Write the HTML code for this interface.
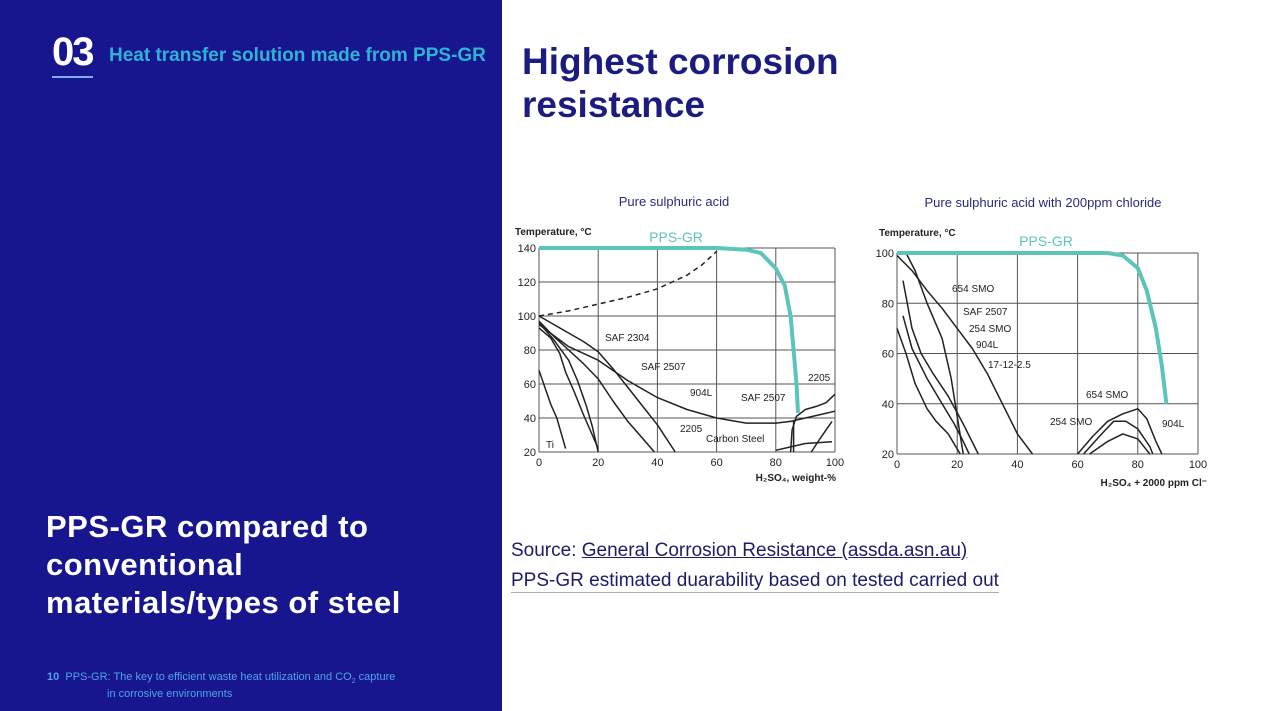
<!DOCTYPE html>
<html><head><meta charset="utf-8">
<style>
body{margin:0;width:1261px;height:711px;overflow:hidden;background:#fff;font-family:"Liberation Sans",sans-serif;position:relative}
.abs{position:absolute}
#panel{left:0;top:0;width:502px;height:711px;background:#18168f}
</style></head><body>
<div id="panel" class="abs">
  <div class="abs" style="left:52px;top:28px;color:#fff;font-weight:bold;font-size:40px;letter-spacing:-2px;line-height:48px;border-bottom:2px solid #7fb0ff">03</div>
  <div class="abs" style="left:109px;top:45px;color:#2fb3d2;font-weight:bold;font-size:19px">Heat transfer solution made from PPS-GR</div>
  <div class="abs" style="left:46px;top:508px;color:#fff;font-weight:bold;font-size:31px;line-height:38px;letter-spacing:0.5px;width:450px">PPS-GR compared to<br>conventional<br>materials/types of steel</div>
  <div class="abs" style="left:47px;top:671px;color:#4fa3e6;font-size:11px;line-height:13px"><b>10</b>&nbsp; PPS-GR: The key to efficient waste heat utilization and CO<sub style="font-size:7px">2</sub> capture<br><span style="padding-left:60px">in corrosive environments</span></div>
</div>
<div class="abs" style="left:522px;top:40px;color:#1c1c80;font-weight:bold;font-size:37px;line-height:43px">Highest corrosion<br>resistance</div>
<div class="abs" style="left:511px;top:540px;color:#1c1c6a;font-size:19px">Source: <span style="text-decoration:underline">General Corrosion Resistance (assda.asn.au)</span></div>
<div class="abs" style="left:511px;top:570px;color:#1c1c6a;font-size:19px;border-bottom:1px solid #aab">PPS-GR estimated duarability based on tested carried out</div>
<svg id="chart" class="abs" style="left:0;top:0" width="1261" height="711"></svg>
<script>
const leftXTicks=[0,20,40,60,80,100];
const leftYTicks=[20,40,60,80,100,120,140];
const rightXTicks=[0,20,40,60,80,100];
const rightYTicks=[20,40,60,80,100];
const leftPPS=[[0,140],[60,140],[70,139],[75,137],[80,128],[83,118],[85,100],[86,80],[87,60],[87.5,43]];
const leftDashed=[[0,100],[10,103],[20,107],[30,111],[40,116],[50,124],[55,130],[60,138]];
const left904L=[[0,95],[10,82],[20,74],[30,62],[40,52],[50,45],[60,40],[70,37],[80,37],[85,38],[90,40],[95,42],[100,44]];
const leftA=[[0,100],[8,92],[15,85],[20,79],[25,69],[30,58],[35,47],[40,36],[46,20]];
const leftB=[[0,97],[5,88],[10,80],[15,72],[20,63],[25,50],[30,38],[35,28],[39,20]];
const leftC=[[0,96],[5,86],[10,74],[13,62],[16,47],[18,35],[20,20]];
const leftD=[[0,93],[4,87],[7,78],[9,67],[12,55],[15,42],[18,30],[20,22]];
const leftTi=[[0,68],[2,58],[4,48],[6,40],[9,22]];
const left2205r=[[85,20],[85.5,33],[87,41],[90,45],[94,47],[97,49],[100,54]];
const leftCarbon=[[80,21],[85,23],[90,25],[99,26]];
const leftE=[[92,20],[95,28],[99,38]];
const leftF=[[86,20],[86,38]];
const rightPPS=[[0,100],[70,100],[75,99],[80,94],[83,85],[86,70],[88,55],[89.5,40]];
const r654=[[0,99],[5,93],[10,85],[15,78],[20,70],[25,62],[30,52],[35,40],[40,28],[45,20]];
const r2507=[[3,100],[6,93],[10,80],[15,66],[18,50],[20,35],[22,20]];
const r254=[[2,89],[5,70],[8,60],[12,52],[17,43],[22,32],[27,20]];
const r904=[[2,75],[5,62],[10,50],[15,40],[19,32],[22,25],[24,20]];
const r171=[[0,70],[3,60],[6,48],[10,38],[13,33],[17,28],[21,20]];
const r654b=[[60,20],[65,27],[70,33],[75,36],[80,38],[83,34],[86,25],[88,20]];
const r254b=[[62,20],[68,28],[72,33],[76,33],[80,30],[84,23],[85,20]];
const r904b=[[64,20],[70,25],[75,28],[80,26],[84,20]];

const NS="http://www.w3.org/2000/svg";
const svg=document.getElementById('chart');
function mk(tag,attrs,parent){const e=document.createElementNS(NS,tag);for(const k in attrs)e.setAttribute(k,attrs[k]);(parent||svg).appendChild(e);return e;}
function axis(x0,x1,y0,y1,ymin,ymax){return{x:v=>x0+(x1-x0)*v/100,y:v=>y0-(y0-y1)*(v-ymin)/(ymax-ymin)};}
const L=axis(539,835,452,248,20,140);
const R=axis(897,1198,454,253,20,100);
function grid(A,xt,yt,ymin,ymax,name){
  const g=mk('g',{});
  
  
  xt.forEach(t=>{mk('line',{x1:A.x(t),x2:A.x(t),y1:A.y(ymin),y2:A.y(ymax),stroke:'#555','stroke-width':1},g);
    const tx=mk('text',{x:A.x(t),y:A.y(ymin)+14,'text-anchor':'middle','font-size':11,fill:'#222'},g);tx.textContent=t;
    });
  yt.forEach(t=>{mk('line',{x1:A.x(0),x2:A.x(100),y1:A.y(t),y2:A.y(t),stroke:'#555','stroke-width':1},g);
    const tx=mk('text',{x:A.x(0)-3,y:A.y(t)+4,'text-anchor':'end','font-size':11,fill:'#222'},g);tx.textContent=t;
    });
}
function curve(A,pts,name,opt){
  opt=opt||{};
  const d=pts.map((p,i)=>(i?'L':'M')+A.x(p[0]).toFixed(1)+','+A.y(p[1]).toFixed(1)).join(' ');
  const p=mk('path',{d:d,fill:'none',stroke:opt.c||'#222','stroke-width':opt.w||1.5,'stroke-dasharray':opt.dash||'none','stroke-linejoin':'round'});
  
  
}
function txt(x,y,s,name,opt){opt=opt||{};const t=mk('text',{x:x,y:y,'font-size':opt.fs||10,fill:opt.c||'#222','font-weight':opt.b?'bold':'normal','text-anchor':opt.a||'start'});t.textContent=s;
  }
grid(L,leftXTicks,leftYTicks,20,140,'left');
grid(R,rightXTicks,rightYTicks,20,100,'right');
curve(L,leftDashed,'dashed-limit',{dash:'5,4'});
curve(L,left904L,'curve-904l');curve(L,leftA,'curve-saf2304-a');curve(L,leftB,'curve-saf2507');
curve(L,leftC,'curve-2205');curve(L,leftD,'curve-saf2304');curve(L,leftTi,'curve-ti');
curve(L,left2205r,'curve-2205-right');curve(L,leftCarbon,'curve-carbon-steel');curve(L,leftE,'curve-right-e');curve(L,leftF,'curve-saf2507-right');
curve(L,leftPPS,'curve-pps-gr-left',{c:'#5cc4b8',w:4});
curve(R,r654,'curve-654smo');curve(R,r2507,'curve-saf2507');curve(R,r254,'curve-254smo');curve(R,r904,'curve-904l');curve(R,r171,'curve-17-12-2-5');
curve(R,r654b,'curve-654smo-high');curve(R,r254b,'curve-254smo-high');curve(R,r904b,'curve-904l-high');
curve(R,rightPPS,'curve-pps-gr-right',{c:'#5cc4b8',w:4});
txt(674,206,'Pure sulphuric acid','left-chart-title',{fs:13,c:'#2a2a7a',a:'middle'});
txt(1043,207,'Pure sulphuric acid with 200ppm chloride','right-chart-title',{fs:13,c:'#2a2a7a',a:'middle'});
txt(515,235,'Temperature, °C','left-y-title',{fs:10,b:1});
txt(879,236,'Temperature, °C','right-y-title',{fs:10,b:1});
txt(676,242,'PPS-GR','left-pps-label',{fs:14,c:'#5cc4b8',a:'middle'});
txt(1046,246,'PPS-GR','right-pps-label',{fs:14,c:'#5cc4b8',a:'middle'});
txt(836,481,'H₂SO₄, weight-%','left-x-title',{fs:10,b:1,a:'end'});
txt(1207,486,'H₂SO₄ + 2000 ppm Cl⁻','right-x-title',{fs:10,b:1,a:'end'});
const labs=[['SAF 2304',605,341],['SAF 2507',641,370],['904L',690,396],['SAF 2507',741,401],['2205',808,381],['2205',680,432],['Carbon Steel',706,442],['Ti',546,448]];
labs.forEach(l=>txt(l[1],l[2],l[0],'left-series-label',{fs:10}));
const rlabs=[['654 SMO',952,292],['SAF 2507',963,315],['254 SMO',969,332],['904L',976,348],['17-12-2.5',988,368],['654 SMO',1086,398],['254 SMO',1050,425],['904L',1162,427]];
rlabs.forEach(l=>txt(l[1],l[2],l[0],'right-series-label',{fs:10}));
</script>
</body></html>
